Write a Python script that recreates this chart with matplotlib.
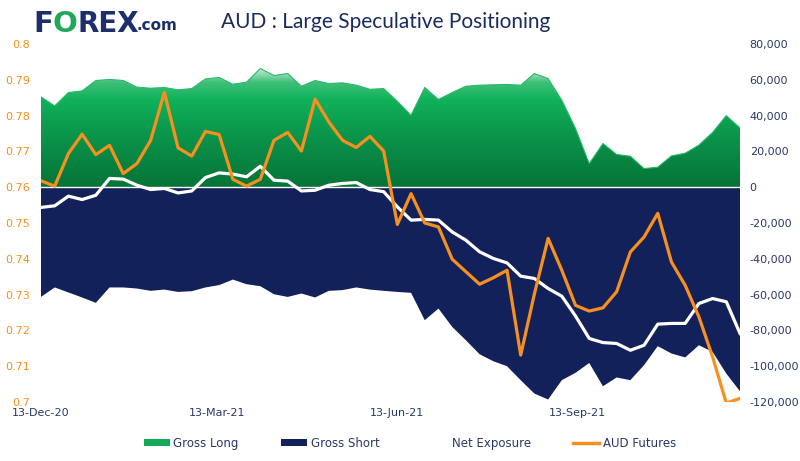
#aud large speculative positioning - cot gross long/short, net exposure and aud futures
import numpy as np
import pandas as pd
import matplotlib
matplotlib.use("Agg")
import matplotlib.pyplot as plt
import matplotlib.dates as mdates
from matplotlib.colors import LinearSegmentedColormap
from matplotlib.patches import Patch
from matplotlib.lines import Line2D
from matplotlib.ticker import FixedLocator, FuncFormatter

#weekly cot readings
dates = pd.date_range("2020-12-13", periods=52, freq="7D")

gross_long = [50450, 45400, 52900, 53800, 59600, 60200, 59600, 55900, 55300, 55700,
              54400, 55100, 60500, 61300, 57500, 58700, 66300, 62400, 63500, 56400,
              59600, 57900, 58300, 57000, 54700, 55100, 48000, 40200, 55700, 49000,
              52900, 56400, 57000, 57200, 57400, 57000, 63500, 60700, 48600, 32800,
              13200, 24400, 18300, 17300, 10400, 11200, 17500, 19000, 23500, 30600,
              40000, 33100]

gross_short = [-61300, -56000, -58800, -61600, -64600, -56000, -56000, -56600, -57900, -57200,
               -58500, -58100, -56000, -54700, -51600, -54200, -55300, -59800, -61300, -59400,
               -61600, -57900, -57500, -56000, -57200, -57900, -58500, -59000, -74300, -67800,
               -78000, -85500, -93300, -97200, -100000, -107800, -115300, -118600, -107800, -103700,
               -98200, -111200, -106300, -107800, -99400, -88800, -92900, -95100, -88300, -92000,
               -104100, -114000]

net_exposure = [-11300, -10400, -5000, -6900, -4500, 4900, 4500, 1100, -1300, -700,
                -3200, -2100, 5400, 8000, 7300, 5800, 11700, 3900, 3400, -2100,
                -1700, 1100, 2100, 2600, -1300, -2500, -11000, -18400, -18000, -18400,
                -25000, -29600, -36100, -39800, -42300, -49700, -51000, -56600, -60900, -72000,
                -84500, -86800, -87300, -91100, -88300, -76500, -76100, -76100, -65000, -62200,
                -64000, -81700]

aud_futures = [0.7618, 0.7603, 0.7694, 0.7748, 0.7691, 0.7717, 0.7638, 0.7666, 0.7731, 0.7865,
               0.7710, 0.7687, 0.7756, 0.7747, 0.7622, 0.7603, 0.7622, 0.7731, 0.7753, 0.7701,
               0.7846, 0.7782, 0.7731, 0.7711, 0.7742, 0.7701, 0.7496, 0.7582, 0.7500, 0.7489,
               0.7399, 0.7364, 0.7329, 0.7347, 0.7368, 0.7131, 0.7302, 0.7457, 0.7368, 0.7270,
               0.7254, 0.7263, 0.7308, 0.7419, 0.7461, 0.7527, 0.7391, 0.7326, 0.7238, 0.7126,
               0.6997, 0.7010]

tick_dates = pd.to_datetime(["2020-12-13", "2021-03-13", "2021-06-13", "2021-09-13"])
legend_labels = ["Gross Long", "Gross Short", "Net Exposure", "AUD Futures"]

NAVY = "#13215b"
TEXT_NAVY = "#2b3866"
ORANGE = "#f7901e"
GREEN_EDGE = "#2bb86a"

x = mdates.date2num(dates)

fig = plt.figure(figsize=(8, 4.61), dpi=100)
ax = fig.add_axes([41/800, 59/461, 699/800, 358/461])
ax2 = ax.twinx()
ax.set_zorder(1)
ax2.set_zorder(2)
ax2.patch.set_visible(False)

#green area with vertical gradient, clipped to the fill polygon
ymax_grad = 68000
grad_cmap = LinearSegmentedColormap.from_list(
    "long_grad",
    [(0.0, "#067337"), (0.5, "#0c9b4f"), (0.72, "#10b25a"), (0.86, "#3fc079"), (1.0, "#e6f6ec")])
poly = ax.fill_between(x, 0, gross_long, facecolor="none", edgecolor="none")
grad = np.linspace(0, 1, 256).reshape(-1, 1)
img = ax.imshow(grad, extent=[x[0], x[-1], 0, ymax_grad], aspect="auto",
                cmap=grad_cmap, origin="lower", zorder=1)
img.set_clip_path(poly.get_paths()[0], transform=ax.transData)
ax.plot(x, gross_long, color=GREEN_EDGE, lw=0.8, zorder=2)

ax.fill_between(x, 0, gross_short, facecolor=NAVY, edgecolor="none", zorder=2)
ax.axhline(0, color="white", lw=1, zorder=3)
ax.plot(x, net_exposure, color="white", lw=2.3, zorder=4)

ax.set_xlim(x[0], x[-1])
ax.set_ylim(-120000, 80000)
ax.yaxis.tick_right()
ax.set_yticks(np.arange(-120000, 80001, 20000))
ax.yaxis.set_major_formatter(FuncFormatter(lambda v, p: f"{int(v):,}"))
ax.tick_params(axis="y", length=0, pad=7, labelsize=8, labelcolor=TEXT_NAVY)

ax.xaxis.set_major_locator(FixedLocator(mdates.date2num(tick_dates)))
ax.xaxis.set_major_formatter(mdates.DateFormatter("%d-%b-%y"))
ax.tick_params(axis="x", length=0, pad=4, labelsize=8, labelcolor=TEXT_NAVY)

ax2.plot(x, aud_futures, color=ORANGE, lw=2.3)
ax2.set_ylim(0.7, 0.8)
ax2.yaxis.tick_left()
ax2.set_yticks(np.round(np.arange(0.70, 0.8001, 0.01), 2))
ax2.yaxis.set_major_formatter(FuncFormatter(lambda v, p: f"{round(v, 2):g}"))
ax2.tick_params(axis="y", length=0, pad=8, labelsize=8, labelcolor=ORANGE)

for a in (ax, ax2):
    for s in a.spines.values():
        s.set_visible(False)

#logo + title
fig.text(33/800, 1 - 24/461, "F", color="#1d2f6b", fontsize=21, fontweight="bold", va="center")
fig.text(52/800, 1 - 24/461, "O", color="#1fa85a", fontsize=21, fontweight="bold", va="center")
fig.text(77/800, 1 - 24/461, "REX", color="#1d2f6b", fontsize=20, fontweight="bold", va="center")
fig.text(136/800, 1 - 26/461, ".com", color="#1d2f6b", fontsize=11, fontweight="bold", va="center")
fig.text(386/800, 1 - 22/461, "AUD : Large Speculative Positioning", color="#1a2b5f",
         fontsize=15, family="Lato", ha="center", va="center")

handles = [Patch(facecolor="#12a957", edgecolor="none"),
           Patch(facecolor=NAVY, edgecolor="none"),
           Line2D([], [], color="white", lw=2.5),
           Line2D([], [], color=ORANGE, lw=2.5)]
leg = fig.legend(handles, legend_labels, loc="center", bbox_to_anchor=(410/800, 1 - 443/461),
                 ncol=4, frameon=False, fontsize=8.5, handlelength=2.2, handleheight=0.6,
                 handletextpad=0.3, columnspacing=3.6)
for t in leg.get_texts():
    t.set_color(TEXT_NAVY)

plt.savefig("out.png", dpi=100)
plt.close()
